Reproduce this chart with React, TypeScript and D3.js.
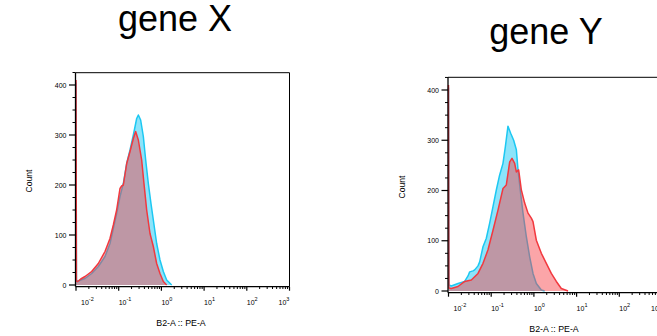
import * as d3 from 'd3';

// axis ticks
const xTickExps = [-2, -1, 0, 1, 2, 3];
const yMajorTicks = [0, 100, 200, 300, 400];
const xAxisLabel = 'B2-A :: PE-A';
const yAxisLabel = 'Count';

// histograms: log10(PE-A) of each bin and the count in it
const geneXControlLog = [-2, -1.99, -1.961, -1.889, -1.789, -1.633, -1.477, -1.321, -1.204, -1.126, -1.048, -0.97, -0.892, -0.813, -0.735, -0.657, -0.579, -0.54, -0.486, -0.423, -0.368, -0.306, -0.244, -0.189, -0.111, -0.033, 0.045, 0.123, 0.241];
const geneXControlCount = [405, 10, 7, 10, 13, 23, 37, 57, 83, 113, 143, 177, 203, 243, 270, 300, 333, 340, 330, 297, 250, 203, 163, 130, 83, 50, 27, 10, 0];

const geneXSampleLog = [-2, -1.99, -1.961, -1.889, -1.789, -1.633, -1.477, -1.321, -1.204, -1.126, -1.048, -0.97, -0.931, -0.892, -0.813, -0.735, -0.657, -0.603, -0.54, -0.462, -0.408, -0.345, -0.267, -0.189, -0.111, -0.033, 0.045, 0.123];
const geneXSampleCount = [410, 8, 7, 12, 17, 27, 43, 67, 93, 120, 150, 193, 198, 200, 243, 267, 293, 307, 290, 250, 203, 150, 103, 77, 43, 23, 7, 0];

const geneYControlLog = [-2, -1.99, -1.934, -1.778, -1.621, -1.543, -1.504, -1.426, -1.387, -1.309, -1.27, -1.192, -1.114, -1.036, -0.958, -0.88, -0.802, -0.724, -0.669, -0.607, -0.544, -0.474, -0.411, -0.372, -0.31, -0.255, -0.177, -0.099, -0.021, 0.057, 0.174, 0.252];
const geneYControlCount = [405, 12, 10, 15, 19, 30, 38, 40, 42, 50, 58, 88, 105, 135, 168, 201, 231, 254, 287, 328, 314, 300, 281, 241, 194, 155, 108, 68, 35, 15, 2, 0];

const geneYSampleLog = [-2, -1.99, -1.934, -1.778, -1.621, -1.465, -1.309, -1.192, -1.075, -0.958, -0.841, -0.724, -0.646, -0.567, -0.513, -0.45, -0.411, -0.357, -0.294, -0.216, -0.138, -0.06, -0.021, 0.057, 0.174, 0.291, 0.408, 0.525, 0.642, 0.799];
const geneYSampleCount = [410, 6, 5, 9, 19, 22, 35, 55, 82, 121, 161, 204, 211, 257, 264, 254, 237, 241, 201, 175, 155, 145, 138, 101, 75, 55, 35, 19, 5, 0];

const FONT = '"Liberation Sans", Arial, Helvetica, sans-serif';
const DECADE = 42.7;

type Layout = {
  title: string;
  titleX: number;
  titleY: number;
  xStart: number;
  yZero: number;
  y400: number;
  frameTop: number;
  countX: number;
  countY: number;
  xLabelX: number;
  xLabelY: number;
};

function Panel({ layout, control, sample }: { layout: Layout; control: [number[], number[]]; sample: [number[], number[]] }) {
  const x = d3.scaleLog().domain([0.01, 1000]).range([layout.xStart, layout.xStart + 5 * DECADE]);
  const y = d3.scaleLinear().domain([0, 400]).range([layout.yZero, layout.y400]);
  const axisY = layout.yZero + 1.7;
  const left = layout.xStart - 0.5;
  const right = layout.xStart + 5 * DECADE;

  const toPts = (logs: number[], counts: number[]) =>
    logs.map((l, i) => [Math.pow(10, l), counts[i]] as [number, number]);
  const area = d3.area<[number, number]>().x(d => x(d[0])).y0(y(0)).y1(d => y(d[1]));
  const line = d3.line<[number, number]>().x(d => x(d[0])).y(d => y(d[1]));

  const ctrl = toPts(control[0], control[1]);
  const smp = toPts(sample[0], sample[1]);

  const yMinor = d3.range(0, 426, 25).filter(v => v % 100 !== 0);
  const xMinor: number[] = [];
  for (let k = -2; k < 3; k++) for (let m = 2; m < 10; m++) xMinor.push(m * Math.pow(10, k));

  return (
    <g>
      <text x={layout.titleX} y={layout.titleY} textAnchor="middle" fontSize={36} fontFamily={FONT} fill="#000">{layout.title}</text>

      <path d={area(ctrl) || ''} fill="rgba(0,196,245,0.45)" />
      <path d={line(ctrl) || ''} fill="none" stroke="#1cc8f2" strokeWidth={1.5} strokeLinejoin="round" />
      <path d={area(smp) || ''} fill="rgba(246,64,70,0.47)" />
      <path d={line(smp) || ''} fill="none" stroke="#f2383e" strokeWidth={1.5} strokeLinejoin="round" />

      {/* frame */}
      <line x1={left} x2={right} y1={layout.frameTop} y2={layout.frameTop} stroke="#000" strokeWidth={1} />
      <line x1={right} x2={right} y1={layout.frameTop} y2={axisY} stroke="#000" strokeWidth={1} />
      <line x1={left} x2={left} y1={layout.frameTop} y2={axisY} stroke="#000" strokeWidth={1.3} />
      <line x1={left} x2={right} y1={axisY} y2={axisY} stroke="#000" strokeWidth={1.3} />

      {/* y ticks */}
      {yMajorTicks.map(v => (
        <g key={'ym' + v}>
          <line x1={left - 6.5} x2={left} y1={y(v)} y2={y(v)} stroke="#000" strokeWidth={1.2} />
          <text x={left - 9} y={y(v) + 2.5} textAnchor="end" fontSize={7} fontFamily={FONT} fill="#000">{v}</text>
        </g>
      ))}
      {yMinor.map(v => (
        <line key={'yn' + v} x1={left - 3} x2={left} y1={y(v)} y2={y(v)} stroke="#000" strokeWidth={1} />
      ))}

      {/* x ticks */}
      {xTickExps.map((e, i) => {
        const px = x(Math.pow(10, e));
        const dx = i === 0 ? 5 : i === xTickExps.length - 1 ? -11 : 0;
        return (
          <g key={'xm' + e}>
            <line x1={px} x2={px} y1={axisY} y2={axisY + 4} stroke="#000" strokeWidth={1.2} />
            <text x={px + dx} y={axisY + 18} fontSize={7} fontFamily={FONT} fill="#000">
              10<tspan fontSize={5.5} dy={-3.5}>{e}</tspan>
            </text>
          </g>
        );
      })}
      {xMinor.map(v => (
        <line key={'xn' + v} x1={x(v)} x2={x(v)} y1={axisY} y2={axisY + 2.3} stroke="#000" strokeWidth={1} />
      ))}

      <text transform={`translate(${layout.countX},${layout.countY}) rotate(-90)`} textAnchor="middle" fontSize={8.6} fontFamily={FONT} fill="#000">{yAxisLabel}</text>
      <text x={layout.xLabelX} y={layout.xLabelY} textAnchor="middle" fontSize={8.8} fontFamily={FONT} fill="#000">{xAxisLabel}</text>
    </g>
  );
}

const geneXLayout: Layout = {
  title: 'gene X', titleX: 175, titleY: 31,
  xStart: 76, yZero: 285, y400: 85, frameTop: 72.7,
  countX: 32, countY: 181, xLabelX: 181, xLabelY: 325.5,
};

const geneYLayout: Layout = {
  title: 'gene Y', titleX: 546, titleY: 44,
  xStart: 448.5, yZero: 291, y400: 90, frameTop: 77.3,
  countX: 405, countY: 187, xLabelX: 554, xLabelY: 332,
};

export default function App() {
  return (
    <svg width={657} height={336} style={{ position: 'absolute', left: 0, top: 0, background: '#fff' }}>
      <Panel layout={geneXLayout} control={[geneXControlLog, geneXControlCount]} sample={[geneXSampleLog, geneXSampleCount]} />
      <Panel layout={geneYLayout} control={[geneYControlLog, geneYControlCount]} sample={[geneYSampleLog, geneYSampleCount]} />
    </svg>
  );
}
